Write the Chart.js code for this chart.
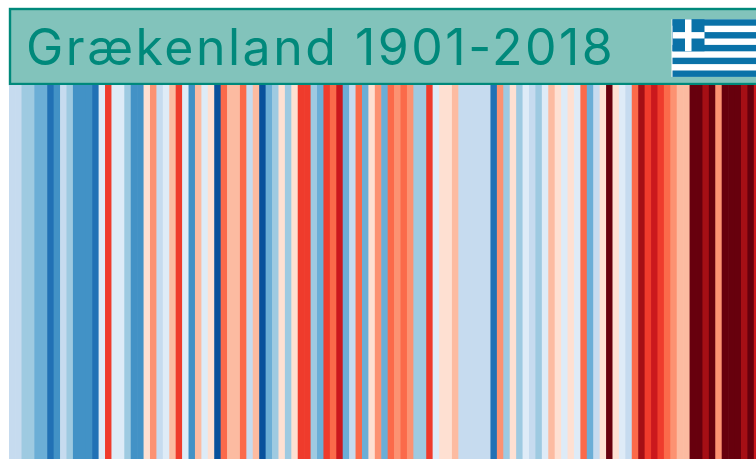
<!DOCTYPE html>
<html lang="da">
<head>
<meta charset="utf-8">
<title>Grækenland 1901-2018</title>
<script src="https://cdn.jsdelivr.net/npm/chart.js@4"></script>
<style>
  html, body { margin: 0; background: #fff; overflow: hidden; width: 756px; height: 459px; }
  canvas { display: block; }
</style>
</head>
<body>
<canvas id="stripes" width="767" height="459"></canvas>
<script>
var titleText = "Grækenland 1901-2018";
var firstYear = 1901;

// temperature anomaly per year (C)
var anomalies = [
  -.3, -.3, -.5, -.5, -.7, -.7, -1.1, -.9, -.3, -.5,
  -.9, -.9, -.9, -1.1, -.1, .9, -.1, -.1, -.5, -.9,
  -.9, .1, .5, -.3, -.1, .3, .9, -.1, -.9, .3,
  -.1, .1, -1.3, .7, .3, .3, .7, -.3, .3, -1.3,
  -.7, -.5, .1, -.5, .1, .9, .9, -.5, -.7, .9,
  .7, 1.1, -.7, -.3, .7, -.7, .1, .5, -.7, .7,
  .5, .7, .5, -.5, -.5, .9, -.1, .1, .1, .3,
  -.3, -.3, -.3, -.3, -.3, -1.1, .5, -.5, .1, -.5,
  -.1, -.3, -.5, -.1, .3, .1, -.1, .1, -.1, .7,
  -.7, -.3, .1, 1.5, .1, -.1, -.3, .7, 1.3, .9,
  1.1, .9, .7, .5, .3, .3, 1.5, 1.5, 1.3, 1.5,
  .5, 1.5, 1.5, 1.5, 1.3, 1.5, 1.1, 1.3
];

var stripeColors = [
  "#08306b", "#08519c", "#2171b5", "#4292c6", "#6baed6", "#9ecae1", "#c6dbef", "#deebf7",
  "#fee0d2", "#fcbba1", "#fc9272", "#fb6a4a", "#ef3b2c", "#cb181d", "#a50f15", "#67000d"
];

function colorFor(a) {
  var i = Math.floor((a + 1.6) / 0.2 + 1e-6);
  return stripeColors[Math.max(0, Math.min(stripeColors.length - 1, i))];
}

var years = anomalies.map(function (a, i) { return String(firstYear + i); });

// title box and flag above the stripes
var headerPlugin = {
  id: "header",
  beforeDraw: function (chart) {
    var ctx = chart.ctx;
    ctx.save();
    ctx.fillStyle = "#82c3bb";
    ctx.fillRect(9, 8, 758, 77);
    ctx.strokeStyle = "#00897b";
    ctx.lineWidth = 2.4;
    ctx.strokeRect(10, 9, 770, 75);

    ctx.fillStyle = "#00897b";
    ctx.font = "400 50px Inter";
    ctx.letterSpacing = "2.5px";
    ctx.textBaseline = "alphabetic";
    ctx.fillText(titleText, 26, 65);
    ctx.letterSpacing = "0px";

    // flag
    var blue = "#0a72a8", fx = 672.5, fy = 19.3, fh = 6.4, cw = 32;
    ctx.fillStyle = "#fff";
    ctx.fillRect(fx - 1, fy, 100, fh * 9);
    ctx.fillStyle = blue;
    for (var s = 0; s < 9; s += 2) ctx.fillRect(fx, fy + s * fh, 100, fh);
    ctx.fillRect(fx, fy, cw, fh * 5);
    ctx.fillStyle = "#fff";
    ctx.fillRect(fx + 12.5, fy, 6.5, fh * 5);
    ctx.fillRect(fx, fy + 2 * fh, cw, fh);
    ctx.restore();
  }
};

new Chart(document.getElementById("stripes"), {
  type: "bar",
  plugins: [headerPlugin],
  data: {
    labels: years,
    datasets: [{
      data: anomalies.map(function (a, i) { return { x: years[i], y: 1, anomaly: a }; }),
      backgroundColor: function (c) { return colorFor(c.raw.anomaly); },
      borderWidth: 0,
      barPercentage: 1,
      categoryPercentage: 1
    }]
  },
  options: {
    responsive: false,
    animation: false,
    layout: { padding: { left: 9, top: 85 } },
    plugins: { legend: { display: false }, tooltip: { enabled: false }, title: { display: false } },
    scales: {
      x: { display: false, offset: true },
      y: { display: false, min: 0, max: 1 }
    }
  }
});
</script>
</body>
</html>
